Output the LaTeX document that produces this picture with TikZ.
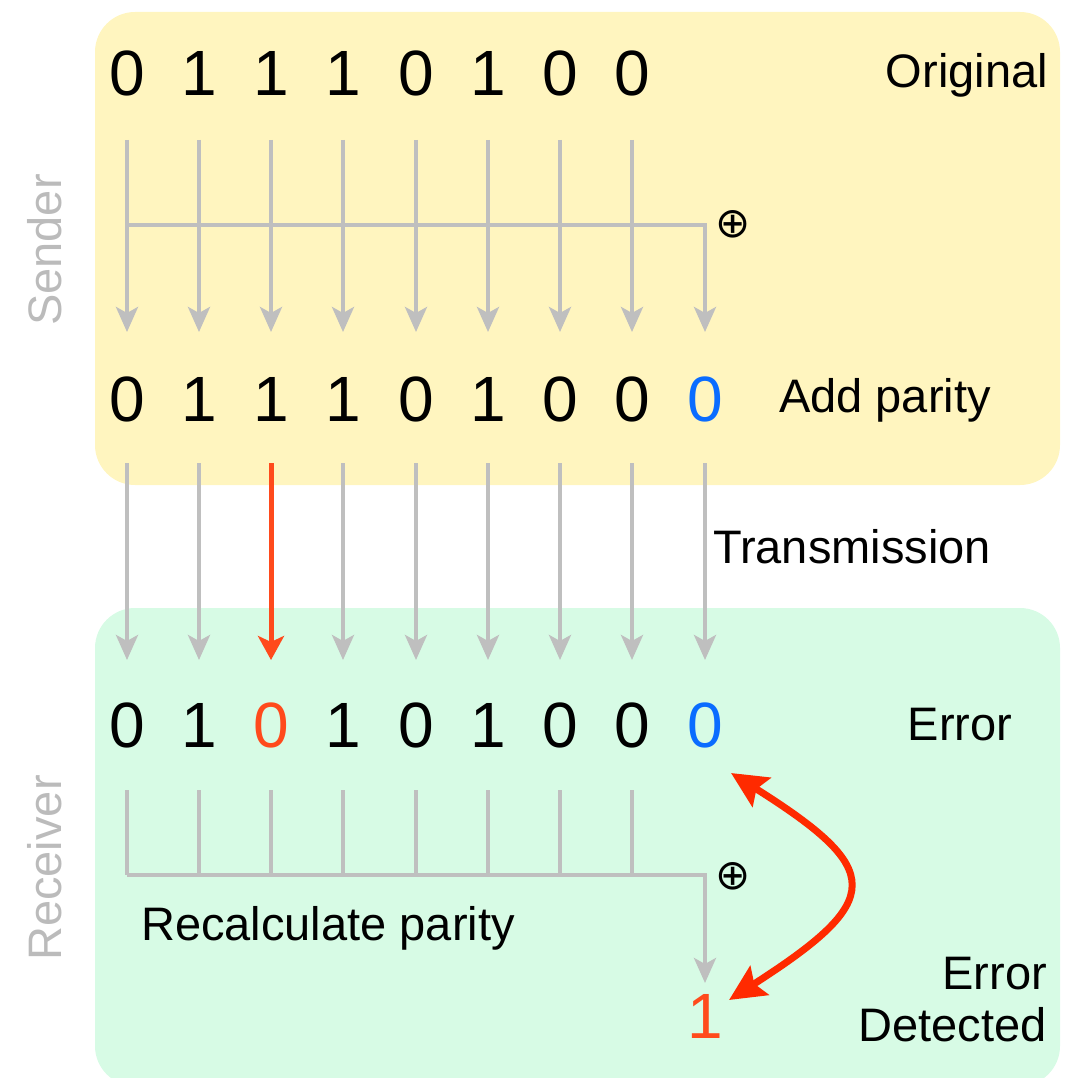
\documentclass[tikz,border=0pt]{standalone}
\usepackage{fontspec}
\setmainfont{Liberation Sans}
\newfontfamily\symfnt{DejaVu Sans}
\usetikzlibrary{arrows.meta}
\definecolor{senderbg}{HTML}{FFF5BF}
\definecolor{receiverbg}{HTML}{D7FBE5}
\definecolor{linegray}{HTML}{BFBFBF}
\definecolor{sidegray}{HTML}{BBBBBB}
\definecolor{errred}{HTML}{FF4A1C}
\definecolor{arrred}{HTML}{FF2A00}
\definecolor{paritybl}{HTML}{0A6CFF}
\tikzset{
  digit/.style={inner sep=0pt, font=\fontsize{64}{70}\selectfont},
  lbl/.style={inner sep=0pt, font=\fontsize{47}{56}\selectfont},
  side/.style={inner sep=0pt, font=\fontsize{47}{56}\selectfont, text=sidegray, rotate=90},
  xorsym/.style={inner sep=0pt, font=\symfnt\fontsize{42}{42}\selectfont},
  wire/.style={draw=linegray, line width=4pt},
  garrow/.style={wire, -{Stealth[length=25pt,width=22pt,inset=6pt]}},
  rarrow/.style={draw=errred, line width=5pt, -{Stealth[length=24pt,width=26pt,inset=6pt]}},
  bigred/.style={draw=arrred, line width=7pt, {Stealth[length=36pt,width=34pt,inset=6pt]}-{Stealth[length=36pt,width=34pt,inset=6pt]}},
}
\begin{document}
\begin{tikzpicture}[x=1pt,y=-1pt]
\useasboundingbox (0,0) rectangle (1072,1078);
\begin{scope}
\clip (0,0) rectangle (1072,1078);
\fill[senderbg, rounded corners=40pt] (95,12) rectangle (1060,485);
\fill[receiverbg, rounded corners=40pt] (95,608) rectangle (1060,1086);
\end{scope}

% side labels
\node[side] (sender) at (45,250) {Sender};
\node[side] (receiver) at (45,868) {Receiver};

% column positions
\def\colx{{127,199,271,343,416,488,560,632,705}}

% original row
\foreach \b [count=\i] in {0,1,1,1,0,1,0,0} {
  \pgfmathsetmacro{\xx}{\colx[\i-1]}
  \node[digit] (o\i) at (\xx,73) {\b};
}
% parity row
\foreach \b/\c [count=\i] in {0/black,1/black,1/black,1/black,0/black,1/black,0/black,0/black,0/paritybl} {
  \pgfmathsetmacro{\xx}{\colx[\i-1]}
  \node[digit, text=\c] (p\i) at (\xx,399) {\b};
}
% received row
\foreach \b/\c [count=\i] in {0/black,1/black,0/errred,1/black,0/black,1/black,0/black,0/black,0/paritybl} {
  \pgfmathsetmacro{\xx}{\colx[\i-1]}
  \node[digit, text=\c] (r\i) at (\xx,725) {\b};
}
\node[digit, text=errred] (res) at (705,1016) {1};

% labels
\node[lbl, anchor=east] (lorig) at (1048,75) {Original};
\node[lbl] (ladd) at (885,400) {Add parity};
\node[lbl, anchor=west] (ltrans) at (713,547) {Transmission};
\node[lbl] (lerr) at (960,725) {Error};
\node[lbl, anchor=west] (lrecalc) at (141,928) {Recalculate parity};
\node[lbl, anchor=east, align=right] (ldet) at (1047,1000) {Error\\[-4pt]Detected};
\node[xorsym] (x1) at (733,224) {⊕};
\node[xorsym] (x2) at (733,876) {⊕};

% sender: original -> parity
\foreach \i in {1,...,8} {
  \draw[garrow, shorten <=67pt, shorten >=67pt] (o\i.center) -- (p\i.center);
}
\coordinate (j1) at (127,225);
\coordinate (j9) at (705,225);
\draw[garrow, shorten >=67pt] (j1) -- (j9) -- (p9.center);

% transmission
\foreach \i in {1,2,4,5,6,7,8,9} {
  \draw[garrow, shorten <=64pt, shorten >=65pt] (p\i.center) -- (r\i.center);
}
\draw[rarrow, shorten <=64pt, shorten >=65pt] (p3.center) -- (r3.center);

% receiver: recalc parity
\foreach \i in {1,...,8} {
  \pgfmathsetmacro{\xx}{\colx[\i-1]}
  \coordinate (k\i) at (\xx,875);
  \draw[wire, shorten <=65pt] (r\i.center) -- (k\i);
}
\coordinate (k9) at (705,875);
\draw[garrow, shorten >=33pt] (k1) -- (k9) -- (res.center);

% error detected curve
\coordinate (ca) at (731,773);
\coordinate (cb) at (729,1000);
\draw[bigred] (ca) .. controls (885,870) and (885,900) .. (cb);
\end{tikzpicture}
\end{document}
